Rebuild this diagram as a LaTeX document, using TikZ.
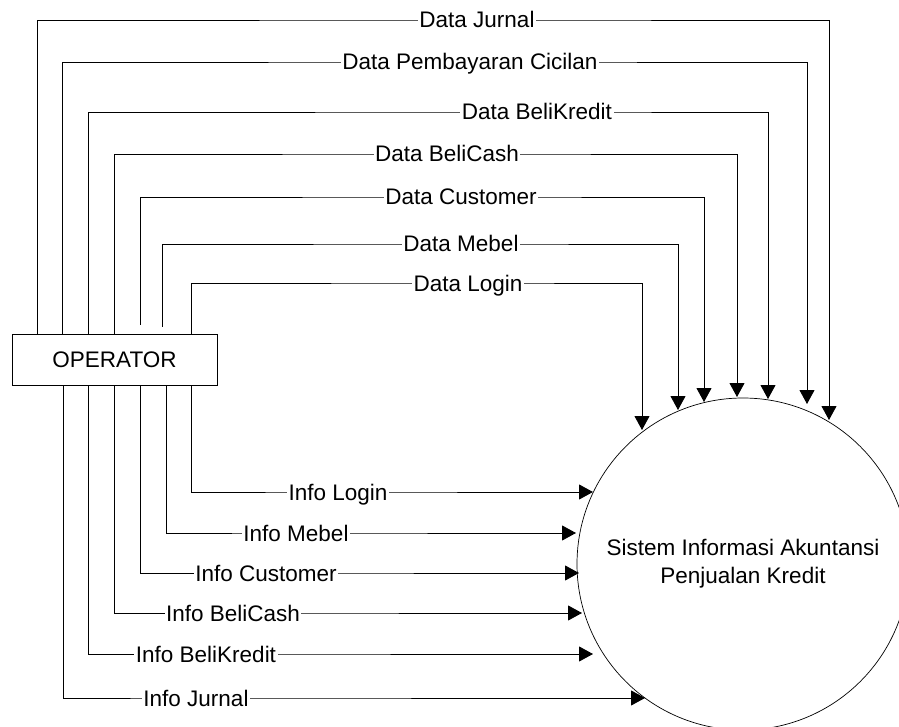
\documentclass[tikz,border=0pt]{standalone}
\usepackage{fontspec}
\setmainfont{Liberation Sans}
\usetikzlibrary{arrows.meta}
\begin{document}
\begin{tikzpicture}[x=1pt,y=-1pt,
  flow/.style={draw=black, line width=0.9pt, -{Triangle[length=14pt,width=15pt]}},
  lab/.style={fill=white, inner xsep=1.5pt, inner ysep=1pt, text height=16pt, text depth=0pt,
              font=\fontsize{22.5}{27}\selectfont},
  opbox/.style={draw, line width=0.9pt, minimum width=205pt, minimum height=51pt, inner sep=0pt,
              font=\fontsize{22.5}{27}\selectfont},
  proc/.style={draw, circle, line width=0.7pt, minimum size=332pt, inner sep=0pt, align=center,
              font=\fontsize{22.5}{28}\selectfont}]
\useasboundingbox (0,0) rectangle (899,727);
\fill[white] (0,0) rectangle (899,727);

\node[opbox] (op) at (114.5,359.5) {OPERATOR};
\node[proc] (sys) at (743,564) {Sistem Informasi Akuntansi\\Penjualan Kredit};

% tips of data flows
\coordinate (tDJ) at (829,420);
\coordinate (tDP) at (807,404);
\coordinate (tDK) at (768,399);
\coordinate (tDC) at (737,397);
\coordinate (tDU) at (704,402);
\coordinate (tDM) at (678,410);
\coordinate (tDL) at (642,430);
% tips of info flows
\coordinate (tIL) at (593,492);
\coordinate (tIM) at (576,533);
\coordinate (tIU) at (579,573);
\coordinate (tIC) at (582,613);
\coordinate (tIK) at (593,654);
\coordinate (tIJ) at (645,698);

% data flows: OPERATOR -> system
\draw[flow] (op.north -| 37,0) |- (477,20) node[lab] (lDJ) {Data Jurnal} -| (tDJ);
\draw[flow] (op.north -| 62,0) |- (470,62) node[lab] (lDP) {Data Pembayaran Cicilan} -| (tDP);
\draw[flow] (op.north -| 88,0) |- (537,112) node[lab] (lDK) {Data BeliKredit} -| (tDK);
\draw[flow] (op.north -| 114,0) |- (447,154) node[lab] (lDC) {Data BeliCash} -| (tDC);
\draw[flow] ([yshift=9pt]op.north -| 140,0) |- (461,197) node[lab] (lDU) {Data Customer} -| (tDU);
\draw[flow] ([yshift=7pt]op.north -| 162,0) |- (461,244) node[lab] (lDM) {Data Mebel} -| (tDM);
\draw[flow] (op.north -| 191,0) |- (468,283) node[lab] (lDL) {Data Login\hspace{11pt}} -| (tDL);

% info flows: OPERATOR -> system
\draw[flow] (op.south -| 191,0) |- (338,492) node[lab] (lIL) {Info Login} -- (tIL);
\draw[flow] (op.south -| 166,0) |- (296,533) node[lab] (lIM) {Info Mebel} -- (tIM);
\draw[flow] (op.south -| 140,0) |- (266,573) node[lab] (lIU) {Info Customer} -- (tIU);
\draw[flow] (op.south -| 114,0) |- (233,613) node[lab] (lIC) {Info BeliCash} -- (tIC);
\draw[flow] (op.south -| 88,0) |- (206,654) node[lab] (lIK) {Info BeliKredit} -- (tIK);
\draw[flow] (op.south -| 63,0) |- (196,698) node[lab] (lIJ) {Info Jurnal} -- (tIJ);
\end{tikzpicture}
\end{document}
